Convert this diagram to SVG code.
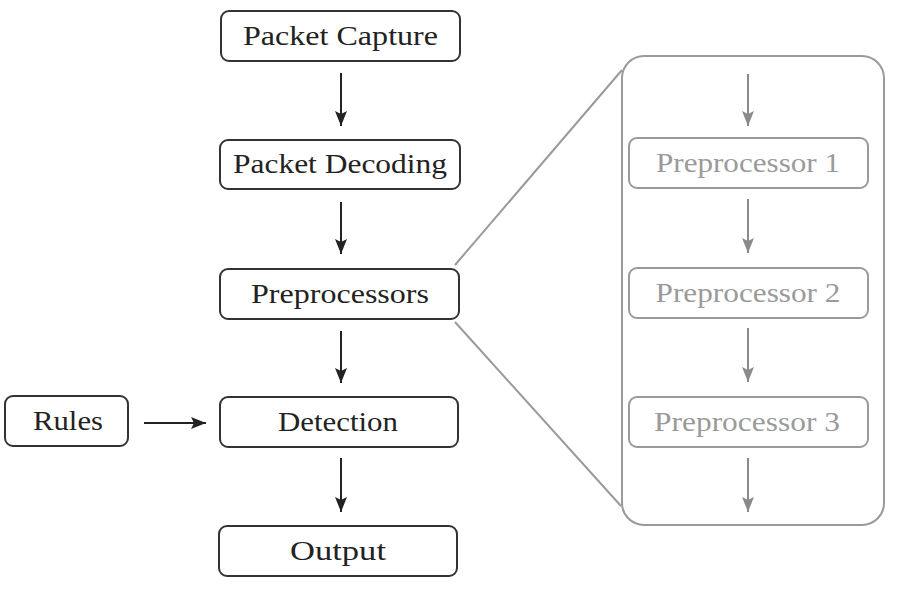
<svg xmlns="http://www.w3.org/2000/svg" width="903" height="601" viewBox="0 0 903 601">
<style>
.n rect{fill:#fff;stroke:#333;stroke-width:2}
.g rect{fill:#fff;stroke:#9a9a9a;stroke-width:2}
text{font-family:"Liberation Serif","Times New Roman",serif;font-size:27px;text-anchor:middle}
.n text{fill:#222}
.g text{fill:#9a9a9a}
.c line{stroke:#222;stroke-width:2}
.cg line{stroke:#8a8a8a;stroke-width:2}
</style>
<defs>
<marker id="ah" markerUnits="userSpaceOnUse" markerWidth="20" markerHeight="20" refX="15" refY="0" viewBox="-1 -10 20 20" orient="auto" overflow="visible">
<path d="M0,-6 L15,0 L0,6 L3,0 Z" fill="#222"/>
</marker>
<marker id="ahg" markerUnits="userSpaceOnUse" markerWidth="20" markerHeight="20" refX="15" refY="0" viewBox="-1 -10 20 20" orient="auto" overflow="visible">
<path d="M0,-6 L15,0 L0,6 L3,0 Z" fill="#8a8a8a"/>
</marker>
</defs>
<rect width="903" height="601" fill="#fff"/>
<g id="panel" class="g">
<rect x="622" y="56" width="262" height="469" rx="22"/>
</g>
<g id="zoomlines" fill="none" stroke="#9a9a9a" stroke-width="2">
<line x1="455" y1="265" x2="622" y2="70"/>
<line x1="455" y1="322" x2="621" y2="506"/>
</g>
<g id="packet-capture" class="n"><rect x="221" y="11" width="239" height="50" rx="8"/><text x="340.5" y="45" textLength="195" lengthAdjust="spacingAndGlyphs">Packet Capture</text></g>
<g id="packet-decoding" class="n"><rect x="220" y="140" width="240" height="49" rx="8"/><text x="340" y="173" textLength="214" lengthAdjust="spacingAndGlyphs">Packet Decoding</text></g>
<g id="preprocessors" class="n"><rect x="220" y="269" width="239" height="50" rx="8"/><text x="340" y="303" textLength="178" lengthAdjust="spacingAndGlyphs">Preprocessors</text></g>
<g id="detection" class="n"><rect x="220" y="397" width="238" height="50" rx="8"/><text x="338" y="431" textLength="120" lengthAdjust="spacingAndGlyphs">Detection</text></g>
<g id="output" class="n"><rect x="219" y="526" width="238" height="50" rx="8"/><text x="338" y="560" textLength="96" lengthAdjust="spacingAndGlyphs">Output</text></g>
<g id="rules" class="n"><rect x="5" y="396" width="123" height="50" rx="8"/><text x="68" y="430" textLength="70" lengthAdjust="spacingAndGlyphs">Rules</text></g>
<g id="preprocessor-1" class="g"><rect x="629" y="138" width="239" height="50" rx="8"/><text x="748" y="172" textLength="184" lengthAdjust="spacingAndGlyphs">Preprocessor 1</text></g>
<g id="preprocessor-2" class="g"><rect x="629" y="268" width="239" height="50" rx="8"/><text x="748" y="302" textLength="185" lengthAdjust="spacingAndGlyphs">Preprocessor 2</text></g>
<g id="preprocessor-3" class="g"><rect x="629" y="397" width="239" height="50" rx="8"/><text x="747" y="431" textLength="186" lengthAdjust="spacingAndGlyphs">Preprocessor 3</text></g>
<g id="connectors">
<g class="c">
<line x1="341" y1="73" x2="341" y2="126" marker-end="url(#ah)"/>
<line x1="341" y1="202" x2="341" y2="254" marker-end="url(#ah)"/>
<line x1="341" y1="331" x2="341" y2="383" marker-end="url(#ah)"/>
<line x1="341" y1="458" x2="341" y2="512" marker-end="url(#ah)"/>
<line x1="144" y1="423" x2="206" y2="423" marker-end="url(#ah)"/>
</g>
<g class="cg">
<line x1="748" y1="74" x2="748" y2="126" marker-end="url(#ahg)"/>
<line x1="748" y1="199" x2="748" y2="253" marker-end="url(#ahg)"/>
<line x1="748" y1="328" x2="748" y2="382" marker-end="url(#ahg)"/>
<line x1="748" y1="458" x2="748" y2="512" marker-end="url(#ahg)"/>
</g>
</g>
</svg>
